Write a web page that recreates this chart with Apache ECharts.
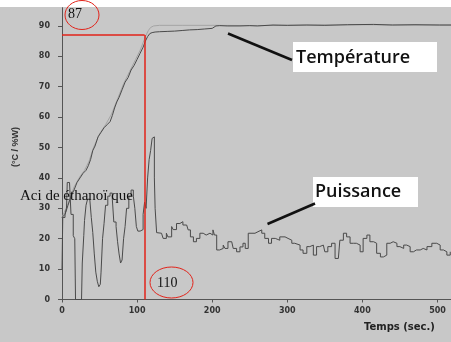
<!DOCTYPE html>
<html>
<head>
<meta charset="utf-8">
<script src="https://cdn.jsdelivr.net/npm/echarts@6/dist/echarts.min.js"></script>
<style>
  html, body { margin: 0; padding: 0; background: #c8c8c8; }
  #chart { width: 451px; height: 342px; }
</style>
</head>
<body>
<div id="chart"></div>
<script>
// Temperature (°C) against time (s)
const tempTime = [0, 4, 8, 12, 16, 20, 24, 28, 32, 35, 38, 41, 44, 48, 52, 56, 60, 64, 67, 70, 73, 76, 80, 84, 88, 92, 96, 100, 104, 108, 111, 114, 117, 120, 124, 130, 140, 150, 160, 170, 180, 190, 200, 205, 210, 220, 237, 250, 260, 281, 300, 326, 350, 380, 415, 440, 470, 503, 518];
const tempValue = [27, 28, 31, 34, 36, 38.5, 40, 41.5, 42.5, 44, 46, 49, 50.5, 53.5, 55, 56.5, 57.5, 58.5, 60.5, 63, 65, 66.5, 69, 71.5, 73, 75.5, 77, 79, 81, 83, 85, 86.5, 87.5, 87.8, 88, 88.1, 88.2, 88.3, 88.5, 88.7, 88.8, 89, 89.2, 90, 90.1, 90, 90, 90.1, 90, 90.3, 90.2, 90.3, 90.2, 90.4, 90.5, 90.3, 90.4, 90.3, 90.3];

// Second (lighter) temperature trace
const temp2Time = [0, 8, 16, 24, 30, 36, 42, 50, 58, 66, 74, 82, 90, 98, 104, 108, 112, 115, 118, 122, 130, 160, 200, 260, 330, 400, 460, 518];
const temp2Value = [27, 31.5, 37, 40.5, 42.5, 45.5, 50, 54.5, 57.5, 61, 66, 71, 75, 79, 82, 84.5, 87, 88.5, 89.5, 90, 90.2, 90.2, 90.2, 90.1, 90.3, 90.4, 90.3, 90.3];

// Power (%W) against time (s)
const powerTime = [0, 1, 4, 6, 7, 10, 12, 14, 15, 17, 18, 26, 27, 29, 30, 32, 34, 37, 39, 41, 43, 45, 47, 49, 51, 52, 54, 56, 58, 61, 64, 67, 69, 72, 74, 76, 78, 80, 82, 84, 86, 89, 92, 95, 97, 99, 101, 104, 106, 108, 110, 112, 114, 116, 118, 120, 122, 123, 124, 126, 128, 132.5, 134.7, 139, 141, 146, 148, 152.5, 157, 161, 166, 168, 171, 175, 179, 183.6, 188, 192, 197, 201, 203, 206, 210, 214.7, 217, 221, 226, 228, 232.5, 237, 241, 244, 248, 253, 257, 261, 266, 270, 275, 279, 284, 290, 297, 301, 306, 310, 312.5, 317, 321, 326, 330, 334.7, 339, 343, 348, 350, 354, 359, 363.6, 368, 370, 374.7, 379, 383.6, 388, 392, 397, 401, 406, 410, 415, 419, 424, 428, 432.5, 437, 441, 446, 450, 455, 459, 463.6, 468, 472, 477, 481, 486, 492.5, 499, 503.6, 508, 512.5, 517];
const powerValue = [10, 27, 28, 30, 38.5, 38.5, 28, 28, 21, 20, 0, 0, 12, 21, 26, 31, 33, 32.5, 27, 22, 15, 9, 6, 4.2, 5, 9, 20, 25, 31, 34, 35, 33, 25.5, 24, 19, 15, 12, 13, 20, 24, 30, 34, 36, 34, 30, 24, 22.5, 22.5, 23, 28, 32, 30, 40, 46, 49, 53, 53.5, 40, 30, 22, 21.8, 21.2, 20.1, 21.8, 20.6, 24, 23, 25, 25.6, 24.5, 24.5, 22.9, 20.6, 19, 20.1, 21.8, 21.2, 21.8, 21.2, 22.9, 21.2, 16.3, 16.8, 17.9, 16.8, 19, 18.5, 16.8, 15.7, 17.3, 18.5, 16.8, 21.8, 21.8, 22.3, 22.9, 21.8, 20.1, 18.5, 20.1, 19.5, 20.6, 20.1, 19.5, 18.5, 19, 17.9, 16.3, 15.2, 17.4, 17.9, 14.6, 17.4, 17.9, 17.4, 15.7, 17.4, 18.5, 13.5, 13, 19.5, 21.8, 20.6, 18.5, 18.5, 17.9, 15.7, 20.1, 21.2, 19, 18.5, 15.2, 14, 14.6, 18.5, 19, 18.5, 17.4, 16.8, 17.9, 17.4, 15.7, 16.3, 16.3, 16.8, 16.3, 17.4, 18.5, 17.9, 16.3, 15.7, 14.6, 15.7];

// Axis ticks and the reference point (time, temperature)
const xTicks = [0, 100, 200, 300, 400, 500];
const yTicks = [0, 10, 20, 30, 40, 50, 60, 70, 80, 90];
const refTime = 110;
const refTemp = 87;

const zip = (xs, ys) => xs.map((x, i) => [x, ys[i]]);

const chart = echarts.init(document.getElementById('chart'), null, { renderer: 'canvas' });

const axisFont = { fontFamily: 'DejaVu Sans', fontWeight: 'bold', fontSize: 8, color: '#333' };
const red = '#e2231a';

chart.setOption({
  backgroundColor: '#c8c8c8',
  animation: false,
  grid: { left: 62, right: 0, top: 7.7, bottom: 42.5 },
  xAxis: {
    type: 'value', min: 0, max: 518, interval: 100,
    axisLine: { lineStyle: { color: '#555', width: 1 } },
    axisTick: { length: 3, lineStyle: { color: '#555' }, customValues: xTicks },
    axisLabel: Object.assign({ margin: 7, customValues: xTicks }, axisFont),
    splitLine: { show: false }
  },
  yAxis: {
    type: 'value', min: 0, max: 96, interval: 10,
    axisLine: { show: true, lineStyle: { color: '#555', width: 1 } },
    axisTick: { show: true, length: 4, lineStyle: { color: '#555' }, customValues: yTicks },
    axisLabel: Object.assign({ margin: 12, customValues: yTicks }, axisFont),
    splitLine: { show: false }
  },
  series: [
    {
      name: 'temp2', type: 'line', data: zip(temp2Time, temp2Value),
      symbol: 'none', lineStyle: { color: '#a4a4a4', width: 1 }, z: 2
    },
    {
      name: 'Température', type: 'line', data: zip(tempTime, tempValue),
      symbol: 'none', lineStyle: { color: '#4a4a4a', width: 1 }, z: 3
    },
    {
      name: 'Puissance', type: 'line', step: 'end', data: zip(powerTime, powerValue),
      symbol: 'none', lineStyle: { color: '#4a4a4a', width: 1 }, z: 3
    },
    {
      name: 'ref', type: 'line', data: [], z: 4,
      markLine: {
        silent: true, symbol: 'none', animation: false,
        label: { show: false },
        lineStyle: { color: red, width: 1.5, type: 'solid' },
        data: [
          [{ coord: [0, refTemp] }, { coord: [refTime, refTemp] }],
          [{ coord: [refTime, refTemp] }, { coord: [refTime, 0] }]
        ]
      }
    }
  ],
  graphic: [
    { type: 'rect', shape: { x: 0, y: 0, width: 451, height: 7 }, style: { fill: '#ffffff' }, z: 100 },
    // axis titles
    { type: 'text', x: 16, y: 147, rotation: Math.PI / 2, z: 100,
      style: { text: '(°C / %W)', fontFamily: 'Liberation Sans', fontWeight: 'bold', fontSize: 9, fill: '#333', align: 'center', verticalAlign: 'middle' } },
    { type: 'text', x: 364, y: 327, z: 100,
      style: { text: 'Temps (sec.)', fontFamily: 'DejaVu Sans', fontWeight: 'bold', fontSize: 10, fill: '#222', align: 'left', verticalAlign: 'middle' } },
    // circled reference values
    { type: 'ellipse', shape: { cx: 82, cy: 15, rx: 17, ry: 14.5 }, style: { fill: 'none', stroke: red, lineWidth: 1 }, z: 100 },
    { type: 'text', x: 68, y: 14, z: 100,
      style: { text: '87', fontFamily: 'Liberation Serif', fontSize: 14, fill: '#111', align: 'left', verticalAlign: 'middle' } },
    { type: 'ellipse', shape: { cx: 171.5, cy: 282.5, rx: 21.5, ry: 15.5 }, style: { fill: 'none', stroke: red, lineWidth: 1 }, z: 100 },
    { type: 'text', x: 157, y: 283, z: 100,
      style: { text: '110', fontFamily: 'Liberation Serif', fontSize: 14, fill: '#111', align: 'left', verticalAlign: 'middle' } },
    // acid label
    { type: 'text', x: 20, y: 196, z: 100,
      style: { text: 'Aci de éthanoï que', fontFamily: 'Liberation Serif', fontSize: 15, fill: '#111', align: 'left', verticalAlign: 'middle' } },
    // series callouts
    { type: 'rect', shape: { x: 293, y: 42, width: 144, height: 30 }, style: { fill: '#ffffff' }, z: 100 },
    { type: 'text', x: 296, y: 58, z: 101,
      style: { text: 'Température', fontFamily: 'Open Sans', fontWeight: 600, fontSize: 18, fill: '#111', align: 'left', verticalAlign: 'middle' } },
    { type: 'line', shape: { x1: 228, y1: 33.5, x2: 292, y2: 60 }, style: { stroke: '#111', lineWidth: 2.5 }, z: 100 },
    { type: 'rect', shape: { x: 313, y: 177, width: 105, height: 30 }, style: { fill: '#ffffff' }, z: 100 },
    { type: 'text', x: 315, y: 192, z: 101,
      style: { text: 'Puissance', fontFamily: 'Open Sans', fontWeight: 600, fontSize: 18, fill: '#111', align: 'left', verticalAlign: 'middle' } },
    { type: 'line', shape: { x1: 267.5, y1: 224, x2: 315, y2: 203.5 }, style: { stroke: '#111', lineWidth: 2.5 }, z: 100 }
  ]
});
</script>
</body>
</html>
